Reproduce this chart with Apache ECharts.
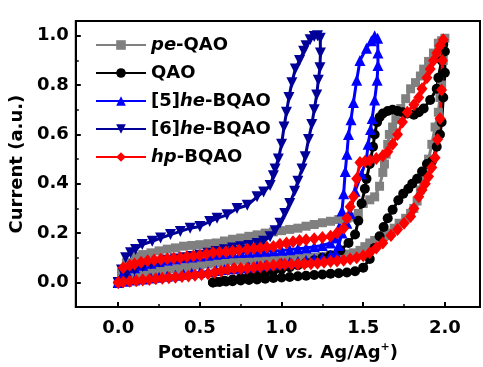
<!DOCTYPE html>
<html>
<head>
<meta charset="UTF-8">
<title>CV curves</title>
<script src="https://cdn.jsdelivr.net/npm/echarts@6/dist/echarts.min.js"></script>
<style>
  html, body { margin: 0; padding: 0; background: #fff; }
  #main { width: 483px; height: 367px; }
</style>
</head>
<body>
<div id="main"></div>
<script>
// series names (legend order)
var names = ['pe-QAO', 'QAO', '[5]he-BQAO', '[6]he-BQAO', 'hp-BQAO'];

// tick values
var xMajor = [0, 0.5, 1, 1.5, 2];
var xMinor = [0.25, 0.75, 1.25, 1.75];
var yMajor = [0, 0.2, 0.4, 0.6, 0.8, 1.0];
var yMinor = [0.1, 0.3, 0.5, 0.7, 0.9];

// pe-QAO (grey squares): forward then return, [potential, current]
var peQAO = [
  [0,0],[0.05,0.02],[0.1,0.03],[0.15,0.035],[0.2,0.04],[0.25,0.045],[0.3,0.05],[0.35,0.055],[0.4,0.06],
  [0.45,0.065],[0.5,0.07],[0.55,0.075],[0.6,0.08],[0.65,0.084],[0.7,0.088],[0.75,0.09],[0.8,0.092],
  [0.85,0.094],[0.9,0.096],[0.95,0.098],[1.0,0.1],[1.05,0.1],[1.1,0.1],[1.15,0.1],[1.2,0.102],[1.25,0.106],
  [1.3,0.11],[1.35,0.112],[1.4,0.115],[1.44,0.12],[1.48,0.13],[1.51,0.145],[1.54,0.16],[1.57,0.17],
  [1.6,0.18],[1.63,0.19],[1.66,0.2],[1.69,0.22],[1.72,0.24],[1.76,0.26],[1.79,0.28],[1.81,0.3],
  [1.83,0.33],[1.85,0.375],[1.87,0.41],[1.88,0.44],[1.9,0.5],[1.92,0.56],[1.94,0.63],[1.96,0.69],
  [1.97,0.75],[1.98,0.8],[1.99,0.9],[2.0,0.99],
  [1.98,0.98],[1.96,0.97],[1.93,0.93],[1.9,0.896],[1.87,0.865],[1.85,0.837],[1.82,0.81],[1.79,0.785],
  [1.76,0.745],[1.73,0.705],[1.7,0.66],[1.68,0.63],[1.66,0.6],[1.65,0.56],[1.64,0.52],[1.63,0.48],
  [1.62,0.446],[1.6,0.39],[1.57,0.347],[1.54,0.335],[1.5,0.32],[1.47,0.28],[1.44,0.265],[1.4,0.26],
  [1.35,0.255],[1.3,0.248],[1.25,0.242],[1.2,0.235],[1.15,0.228],[1.1,0.22],[1.05,0.215],[1.0,0.21],
  [0.95,0.205],[0.9,0.2],[0.85,0.193],[0.8,0.187],[0.75,0.18],[0.7,0.175],[0.65,0.168],[0.6,0.16],
  [0.55,0.157],[0.5,0.153],[0.45,0.15],[0.4,0.147],[0.35,0.14],[0.3,0.135],[0.25,0.128],[0.2,0.12],
  [0.15,0.113],[0.1,0.105],[0.05,0.08],[0.02,0.04],[0,0]
];

// QAO (black circles)
var QAO = [
  [0.58,0],[0.62,0.002],[0.66,0.004],[0.7,0.005],[0.75,0.008],[0.8,0.01],[0.85,0.012],[0.9,0.015],
  [0.95,0.018],[1.0,0.02],[1.05,0.022],[1.1,0.025],[1.15,0.027],[1.2,0.03],[1.25,0.032],[1.3,0.035],
  [1.35,0.037],[1.4,0.04],[1.45,0.045],[1.5,0.06],[1.54,0.095],[1.57,0.14],[1.6,0.187],[1.625,0.225],
  [1.65,0.26],[1.68,0.295],[1.715,0.333],[1.745,0.36],[1.776,0.38],[1.8,0.4],[1.83,0.42],[1.86,0.45],
  [1.89,0.48],[1.92,0.49],[1.95,0.55],[1.97,0.6],[1.98,0.65],[1.99,0.75],[2.0,0.85],[2.0,0.936],[1.99,0.965],
  [1.98,0.9],[1.96,0.83],[1.95,0.785],[1.91,0.74],[1.87,0.705],[1.84,0.69],[1.81,0.68],[1.77,0.685],
  [1.74,0.69],[1.71,0.695],[1.68,0.7],[1.65,0.695],[1.62,0.685],[1.6,0.67],[1.585,0.65],[1.57,0.6],
  [1.56,0.55],[1.54,0.48],[1.52,0.42],[1.51,0.38],[1.49,0.32],[1.47,0.25],[1.45,0.194],[1.41,0.16],
  [1.36,0.13],[1.3,0.11],[1.25,0.1],[1.2,0.09],[1.15,0.08],[1.1,0.07],[1.05,0.062],[1.0,0.055],
  [0.95,0.047],[0.9,0.04],[0.85,0.032],[0.8,0.025],[0.75,0.018],[0.7,0.012],[0.65,0.007],[0.6,0.003],[0.58,0]
];

// [5]he-BQAO (blue up-triangles)
var he5BQAO = [
  [0,0],[0.05,0.005],[0.1,0.01],[0.15,0.014],[0.2,0.018],[0.25,0.021],[0.3,0.025],[0.35,0.029],[0.4,0.033],
  [0.45,0.037],[0.5,0.04],[0.55,0.044],[0.6,0.048],[0.65,0.052],[0.7,0.055],[0.75,0.059],[0.8,0.063],
  [0.85,0.067],[0.9,0.07],[0.95,0.074],[1.0,0.078],[1.05,0.082],[1.1,0.085],[1.15,0.09],[1.2,0.095],
  [1.25,0.1],[1.3,0.11],[1.33,0.12],[1.35,0.15],[1.37,0.2],[1.4,0.24],[1.42,0.28],[1.45,0.37],[1.49,0.44],
  [1.52,0.5],[1.53,0.56],[1.545,0.62],[1.555,0.665],[1.57,0.74],[1.585,0.82],[1.59,0.88],[1.59,0.93],[1.588,0.99],
  [1.57,1.0],[1.55,0.98],[1.52,0.95],[1.48,0.9],[1.46,0.82],[1.44,0.73],[1.425,0.66],[1.41,0.6],[1.4,0.52],
  [1.39,0.45],[1.38,0.36],[1.37,0.29],[1.35,0.22],[1.33,0.18],[1.3,0.16],[1.25,0.15],[1.2,0.145],
  [1.15,0.14],[1.1,0.137],[1.05,0.133],[1.0,0.13],[0.95,0.128],[0.9,0.126],[0.85,0.124],[0.8,0.122],
  [0.75,0.121],[0.7,0.12],[0.65,0.117],[0.6,0.114],[0.55,0.11],[0.5,0.107],[0.45,0.103],[0.4,0.1],
  [0.35,0.095],[0.3,0.09],[0.25,0.085],[0.2,0.078],[0.15,0.07],[0.1,0.06],[0.05,0.045],[0.02,0.025],[0,0]
];

// [6]he-BQAO (navy down-triangles)
var he6BQAO = [
  [0,0],[0.05,0.03],[0.1,0.05],[0.15,0.065],[0.2,0.075],[0.25,0.082],[0.3,0.09],[0.35,0.095],[0.4,0.1],
  [0.45,0.105],[0.5,0.11],[0.55,0.118],[0.6,0.125],[0.65,0.133],[0.7,0.14],[0.75,0.145],[0.8,0.15],
  [0.85,0.158],[0.89,0.167],[0.93,0.185],[0.96,0.21],[0.99,0.24],[1.02,0.28],[1.05,0.32],[1.08,0.37],
  [1.1,0.41],[1.125,0.46],[1.145,0.51],[1.165,0.58],[1.185,0.64],[1.2,0.7],[1.215,0.76],[1.225,0.82],
  [1.235,0.87],[1.238,0.93],[1.237,0.99],
  [1.22,1.0],[1.2,0.997],[1.175,0.984],[1.15,0.96],[1.135,0.937],[1.11,0.9],[1.084,0.865],[1.063,0.81],
  [1.045,0.75],[1.03,0.69],[1.015,0.63],[1.0,0.56],[0.98,0.5],[0.96,0.46],[0.95,0.433],[0.93,0.393],
  [0.89,0.367],[0.85,0.347],[0.79,0.313],[0.727,0.3],[0.666,0.274],[0.605,0.26],[0.56,0.247],[0.5,0.227],
  [0.44,0.22],[0.38,0.207],[0.32,0.194],[0.259,0.18],[0.208,0.167],[0.147,0.154],[0.106,0.134],
  [0.075,0.12],[0.045,0.1],[0.02,0.05],[0,0]
];

// hp-BQAO (red diamonds)
var hpBQAO = [
  [0,0],[0.03,0.06],[0.07,0.07],[0.1,0.075],[0.14,0.082],[0.18,0.088],[0.22,0.091],[0.26,0.094],[0.3,0.096],
  [0.34,0.098],[0.38,0.1],[0.42,0.104],[0.46,0.107],[0.5,0.11],[0.54,0.115],[0.58,0.12],[0.62,0.122],
  [0.66,0.124],[0.7,0.126],[0.74,0.13],[0.79,0.135],[0.83,0.138],[0.87,0.14],[0.91,0.143],[0.95,0.146],
  [0.99,0.155],[1.03,0.16],[1.07,0.165],[1.11,0.17],[1.15,0.173],[1.2,0.177],[1.25,0.182],[1.3,0.187],
  [1.34,0.2],[1.38,0.22],[1.4,0.26],[1.42,0.307],[1.44,0.347],[1.46,0.42],[1.48,0.486],[1.51,0.49],
  [1.54,0.494],[1.58,0.503],[1.62,0.514],[1.65,0.53],[1.68,0.56],[1.71,0.6],[1.74,0.65],[1.77,0.69],
  [1.81,0.72],[1.84,0.75],[1.86,0.785],[1.89,0.83],[1.91,0.865],[1.93,0.9],[1.95,0.93],[1.97,0.96],[1.99,0.984],
  [1.985,0.9],[1.98,0.78],[1.97,0.665],[1.955,0.58],[1.94,0.506],[1.92,0.466],[1.9,0.43],[1.88,0.4],
  [1.86,0.375],[1.84,0.347],[1.81,0.3],[1.79,0.267],[1.75,0.24],[1.71,0.215],[1.67,0.19],[1.62,0.16],
  [1.58,0.14],[1.54,0.12],[1.5,0.108],[1.46,0.1],[1.42,0.095],[1.38,0.09],[1.34,0.087],[1.3,0.085],
  [1.26,0.082],[1.22,0.078],[1.18,0.076],[1.14,0.075],[1.1,0.074],[1.06,0.074],[1.02,0.074],[0.99,0.074],
  [0.95,0.07],[0.91,0.067],[0.87,0.064],[0.83,0.061],[0.79,0.058],[0.75,0.057],[0.71,0.056],[0.67,0.052],
  [0.63,0.045],[0.59,0.04],[0.55,0.035],[0.51,0.032],[0.47,0.029],[0.43,0.026],[0.39,0.024],[0.35,0.021],
  [0.31,0.019],[0.27,0.017],[0.23,0.015],[0.19,0.012],[0.15,0.01],[0.11,0.007],[0.07,0.005],[0.03,0.002],[0,0]
];

var FONT = 'DejaVu Sans';
var myChart = echarts.init(document.getElementById('main'));

function mkSeries(name, data, color, symbol, size, rotate) {
  return {
    name: name,
    type: 'line',
    data: data,
    xAxisIndex: 0,
    yAxisIndex: 0,
    symbol: symbol,
    symbolSize: size,
    symbolRotate: rotate || 0,
    showAllSymbol: true,
    smooth: false,
    lineStyle: { color: color, width: 3 },
    itemStyle: { color: color, borderWidth: 0 },
    emphasis: { disabled: true }
  };
}

myChart.setOption({
  animation: false,
  textStyle: { fontFamily: FONT },
  grid: {
    left: 75, right: 3, top: 21, bottom: 56,
    show: true, borderColor: '#000', borderWidth: 2, backgroundColor: 'transparent'
  },
  legend: {
    data: names,
    orient: 'vertical',
    left: 90,
    top: 31,
    itemWidth: 50,
    itemHeight: 12,
    itemGap: 10,
    formatter: function (name) {
      return name.replace(/(pe|he|hp)/, '{i|$1}');
    },
    textStyle: {
      fontFamily: FONT, fontWeight: 'bold', fontSize: 18, color: '#000',
      rich: { i: { fontFamily: FONT, fontWeight: 'bold', fontStyle: 'italic', fontSize: 18, color: '#000' } }
    }
  },
  xAxis: [{
    type: 'value',
    min: -0.26, max: 2.215,
    name: '{n|Potential (V }{i|vs.}{n| Ag/Ag}{s|+}{n|)}',
    nameLocation: 'middle',
    nameGap: 31,
    nameTextStyle: {
      rich: {
        n: { fontFamily: FONT, fontWeight: 'bold', fontSize: 18, color: '#000', lineHeight: 22 },
        i: { fontFamily: FONT, fontWeight: 'bold', fontStyle: 'italic', fontSize: 18, color: '#000', lineHeight: 22 },
        s: { fontFamily: FONT, fontWeight: 'bold', fontSize: 11, color: '#000', verticalAlign: 'top', lineHeight: 14 }
      }
    },
    axisLine: { onZero: false, lineStyle: { color: '#000', width: 2 } },
    axisTick: { inside: true, length: 5, customValues: xMajor, lineStyle: { color: '#000', width: 2 } },
    axisLabel: {
      customValues: xMajor, margin: 12,
      fontFamily: FONT, fontWeight: 'bold', fontSize: 18, color: '#000',
      formatter: function (v) { return v.toFixed(1); }
    },
    splitLine: { show: false }
  }, {
    type: 'value',
    position: 'bottom',
    min: -0.26, max: 2.215,
    axisLine: { show: false, onZero: false },
    axisTick: { inside: true, length: 3, customValues: xMinor, lineStyle: { color: '#000', width: 1.5 } },
    axisLabel: { show: false },
    splitLine: { show: false }
  }],
  yAxis: [{
    type: 'value',
    min: -0.1, max: 1.06,
    name: 'Current (a.u.)',
    nameLocation: 'middle',
    nameGap: 38,
    nameTextStyle: { fontFamily: FONT, fontWeight: 'bold', fontSize: 18, color: '#000' },
    axisLine: { onZero: false, lineStyle: { color: '#000', width: 2 } },
    axisTick: { inside: true, length: 5, customValues: yMajor, lineStyle: { color: '#000', width: 2 } },
    axisLabel: {
      customValues: yMajor, margin: 7,
      fontFamily: FONT, fontWeight: 'bold', fontSize: 18, color: '#000',
      formatter: function (v) { return v.toFixed(1); }
    },
    splitLine: { show: false }
  }, {
    type: 'value',
    position: 'left',
    min: -0.1, max: 1.06,
    axisLine: { show: false, onZero: false },
    axisTick: { inside: true, length: 3, customValues: yMinor, lineStyle: { color: '#000', width: 1.5 } },
    axisLabel: { show: false },
    splitLine: { show: false }
  }],
  series: [
    mkSeries(names[0], peQAO, '#808080', 'rect', 9),
    mkSeries(names[1], QAO, '#000000', 'circle', 10),
    mkSeries(names[2], he5BQAO, '#0000FF', 'triangle', 11),
    mkSeries(names[3], he6BQAO, '#000099', 'triangle', 11, 180),
    mkSeries(names[4], hpBQAO, '#FF0000', 'diamond', [11, 13])
  ]
});
</script>
</body>
</html>
